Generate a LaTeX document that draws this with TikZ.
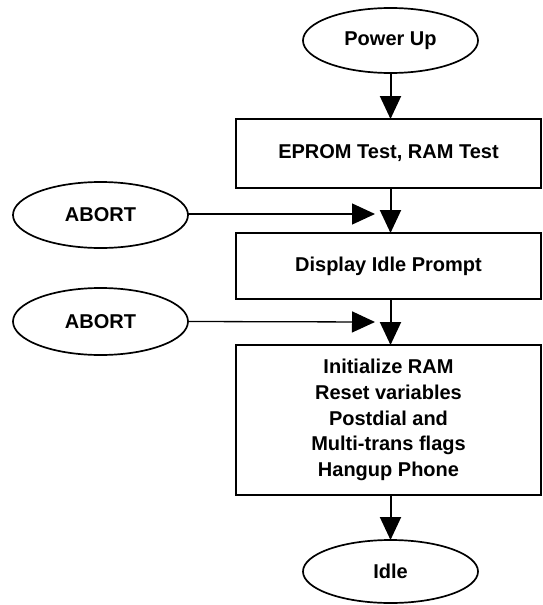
\documentclass[tikz,border=0pt]{standalone}
\usepackage{fontspec}
\setmainfont{Liberation Sans}
\usetikzlibrary{shapes.geometric,arrows.meta}
\begin{document}
\begin{tikzpicture}[x=1pt,y=-1pt,
  every node/.style={font=\bfseries\fontsize{20}{25.8}\selectfont, line width=1.7pt, inner sep=0pt, outer sep=0pt},
  oval/.style={draw, ellipse, minimum width=175pt, minimum height=65pt},
  stepbox/.style={draw, rectangle, minimum width=305pt, align=center},
  arr/.style={line width=2pt, -{Triangle[length=23pt,width=21pt]}},
  harr/.style={line width=1.3pt, -{Triangle[length=23pt,width=21pt]}}]
\useasboundingbox (0,0) rectangle (543,605);
\node[oval] (pu) at (390.5,40.5) {Power Up};
\node[stepbox, minimum height=69pt] (b1) at (388.5,153.5) {EPROM Test, RAM Test};
\node[stepbox, minimum height=66pt] (b2) at (388.5,266) {Display Idle Prompt};
\node[stepbox, minimum height=150pt] (b3) at (388.5,420) {Initialize RAM\\Reset variables\\Postdial and\\Multi-trans flags\\Hangup Phone};
\node[oval, minimum height=63pt] (idle) at (390.5,571.5) {Idle};
\node[oval, minimum height=66pt] (a1) at (100.5,215) {ABORT};
\node[oval, minimum height=67pt] (a2) at (100.5,321.5) {ABORT};
\coordinate (j1) at (375,214);
\coordinate (j2) at (375,322);
\draw[arr] (pu.south) -- (pu.south |- b1.north);
\draw[arr] (pu.south |- b1.south) -- (pu.south |- b2.north);
\draw[arr] (pu.south |- b2.south) -- (pu.south |- b3.north);
\draw[arr] (pu.south |- b3.south) -- (idle.north);
\draw[harr] (a1.east |- j1) -- (j1);
\draw[harr] (a2.east) -- (j2);
\end{tikzpicture}
\end{document}
